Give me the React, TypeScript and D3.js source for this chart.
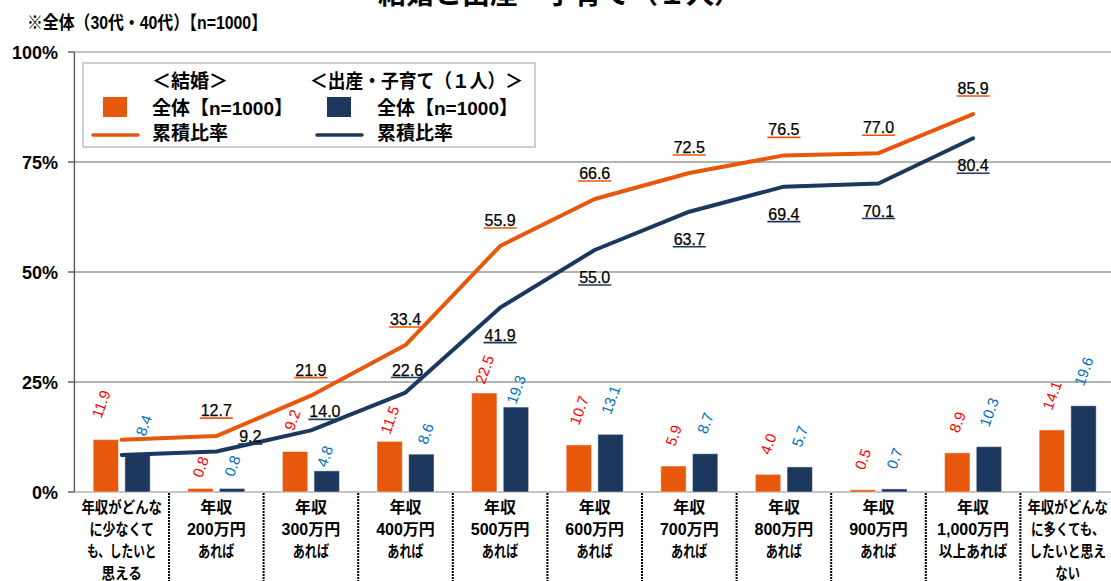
import React from "react";
import * as d3 from "d3";

// ---------- data ----------
const categories: string[][] = [
  ["年収がどんな", "に少なくて", "も、したいと", "思える"],
  ["年収", "200万円", "あれば"],
  ["年収", "300万円", "あれば"],
  ["年収", "400万円", "あれば"],
  ["年収", "500万円", "あれば"],
  ["年収", "600万円", "あれば"],
  ["年収", "700万円", "あれば"],
  ["年収", "800万円", "あれば"],
  ["年収", "900万円", "あれば"],
  ["年収", "1,000万円", "以上あれば"],
  ["年収がどんな", "に多くても、", "したいと思え", "ない"],
];
const marriageShare = [11.9, 0.8, 9.2, 11.5, 22.5, 10.7, 5.9, 4.0, 0.5, 8.9, 14.1];
const childShare = [8.4, 0.8, 4.8, 8.6, 19.3, 13.1, 8.7, 5.7, 0.7, 10.3, 19.6];
const marriageCumulative = [11.9, 12.7, 21.9, 33.4, 55.9, 66.6, 72.5, 76.5, 77.0, 85.9];
const childCumulative = [8.4, 9.2, 14.0, 22.6, 41.9, 55.0, 63.7, 69.4, 70.1, 80.4];
const yTicks = [0, 25, 50, 75, 100];
const subtitle = "※全体（30代・40代）【n=1000】";
const topTitle = "結婚と出産・子育て（１人）";
const legendHeads = ["＜結婚＞", "＜出産・子育て（１人）＞"];
const legendBarText = "全体【n=1000】";
const legendLineText = "累積比率";

// ---------- style / layout ----------
const ORANGE = "#E8580C";
const NAVY = "#1C385E";
const RED = "#FF0000";
const BLUE = "#0070C0";
const NUM_FONT = "'Liberation Sans', Arial, 'Noto Sans CJK JP', sans-serif";
const JP_FONT = "'Liberation Sans', Arial, 'Noto Sans CJK JP', sans-serif";

const barGap: Record<string, Record<number, number>> = {
  m: { 1: 10, 3: 6, 4: 8, 0: 20, 2: 20 },
  c: { 1: 11, 2: 3, 3: 9, 4: 2, 0: 18 },
};
const barDx: Record<string, Record<number, number>> = {
  m: { 0: -5, 2: -3 },
  c: { 0: 6, 2: -2, 3: 4 },
};
const childLabelOverride: Record<number, { dx: number; dy: number }> = {
  1: { dx: 34, dy: -9.5 },
  2: { dx: 14, dy: -13 },
  3: { dx: 2, dy: -17 },
};

function numWidth(s: string, size: number) {
  let w = 0;
  for (const ch of s) w += ch === "." ? 0.278 * size : 0.556 * size;
  return w;
}

// proportional-font width estimate (kana narrower than kanji)
function jpWidth(s: string, size: number) {
  let w = 0;
  for (const ch of s) {
    const c = ch.charCodeAt(0);
    if (ch === "," || ch === ".") w += 0.278 * size;
    else if (c < 0x80) w += 0.556 * size;
    else if (ch === "、") w += 0.55 * size;
    else if (c >= 0x3040 && c <= 0x30ff) w += 0.76 * size;
    else w += size;
  }
  return w;
}

export default function App() {
  const W = 1111;
  const H = 581;
  const x = d3
    .scaleBand<number>()
    .domain(d3.range(categories.length))
    .range([74.4, 1115])
    .padding(0);
  const y = d3.scaleLinear().domain([0, 100]).range([492, 52]);
  const bw = x.bandwidth();
  const cx = (i: number) => (x(i) as number) + bw / 2;
  const sub = d3
    .scaleBand<string>()
    .domain(["m", "c"])
    .range([-28.5, 28.5])
    .paddingInner(0.2);
  const barW = sub.bandwidth();

  const line = d3
    .line<number>()
    .x((_, i) => cx(i))
    .y((d) => y(d));

  const barLabel = (v: number, i: number, key: "m" | "c") => {
    const s = v.toFixed(1);
    const L = numWidth(s, 15);
    const hgt = L * Math.sin((70 * Math.PI) / 180) + 11 * Math.cos((70 * Math.PI) / 180);
    const gap = barGap[key][i] ?? 19;
    const dx = barDx[key][i] ?? 0;
    const bx = cx(i) + (sub(key) as number) + barW / 2 + dx;
    const by = y(v) - gap - hgt / 2;
    return (
      <text
        key={key + i}
        transform={`translate(${bx},${by}) rotate(-70)`}
        textAnchor="middle"
        dominantBaseline="central"
        fontFamily={NUM_FONT}
        fontSize={15}
        fill={key === "m" ? RED : BLUE}
      >
        {s}
      </text>
    );
  };

  const lineLabel = (v: number, i: number, key: "m" | "c") => {
    if (i === 0) return null;
    const s = v.toFixed(1);
    let dx = 0;
    let dy = key === "m" ? -20 : 33;
    if (key === "c" && childLabelOverride[i]) {
      dx = childLabelOverride[i].dx;
      dy = childLabelOverride[i].dy;
    }
    const tx = cx(i) + dx;
    const ty = y(v) + dy;
    const w = numWidth(s, 16);
    return (
      <g key={"l" + key + i}>
        <text
          x={tx}
          y={ty}
          textAnchor="middle"
          fontFamily={NUM_FONT}
          fontSize={16}
          fill="#000"
          stroke="#000"
          strokeWidth={0.25}
        >
          {s}
        </text>
        <line
          x1={tx - w / 2 - 1}
          x2={tx + w / 2 + 1}
          y1={ty + 2}
          y2={ty + 2}
          stroke={key === "m" ? ORANGE : NAVY}
          strokeWidth={1.6}
        />
      </g>
    );
  };

  return (
    <svg
      width={W}
      height={H}
      style={{ position: "absolute", left: 0, top: 0, background: "#fff" }}
    >
      {/* clipped top title */}
      <text
        x={560}
        y={4}
        textAnchor="middle"
        fontFamily={JP_FONT}
        fontWeight="bold"
        fontSize={28}
        fill="#000"
      >
        {topTitle}
      </text>
      <text
        x={27}
        y={29}
        fontFamily={JP_FONT}
        fontWeight="bold"
        fontSize={18.5}
        textLength={240}
        lengthAdjust="spacingAndGlyphs"
        fill="#000"
      >
        {subtitle}
      </text>

      {/* gridlines */}
      {yTicks.map((t) => (
        <line
          key={"g" + t}
          x1={74.4}
          x2={W}
          y1={y(t)}
          y2={y(t)}
          stroke={t === 0 || t === 100 ? "#c4c4c4" : "#9a9a9a"}
          strokeWidth={t === 0 || t === 100 ? 2.2 : 1.6}
        />
      ))}

      {/* y axis */}
      <line x1={74.4} x2={74.4} y1={y(100)} y2={y(0)} stroke="#5a5a5a" strokeWidth={1.4} />
      {yTicks.map((t) => (
        <g key={"t" + t}>
          <line x1={68} x2={74.4} y1={y(t)} y2={y(t)} stroke="#5a5a5a" strokeWidth={1.4} />
          <text
            x={58}
            y={y(t) + 6.5}
            textAnchor="end"
            fontFamily={NUM_FONT}
            fontWeight="bold"
            fontSize={18}
            fill="#000"
          >
            {t}%
          </text>
        </g>
      ))}

      {/* bars */}
      {marriageShare.map((v, i) => (
        <rect
          key={"bm" + i}
          x={cx(i) + (sub("m") as number)}
          y={y(v)}
          width={barW}
          height={y(0) - y(v)}
          fill={ORANGE}
          stroke="rgba(255,255,255,0.45)"
          strokeWidth={1}
        />
      ))}
      {childShare.map((v, i) => (
        <rect
          key={"bc" + i}
          x={cx(i) + (sub("c") as number)}
          y={y(v)}
          width={barW}
          height={y(0) - y(v)}
          fill={NAVY}
          stroke="rgba(255,255,255,0.45)"
          strokeWidth={1}
        />
      ))}

      {/* category separators */}
      {categories.slice(1).map((_, k) => (
        <line
          key={"s" + k}
          x1={x(k + 1) as number}
          x2={x(k + 1) as number}
          y1={493}
          y2={H}
          stroke="#000"
          strokeWidth={2}
          strokeDasharray="2 1"
        />
      ))}

      {/* category labels */}
      {categories.map((lines, i) =>
        lines.map((ln, k) => (
          <text
            key={"c" + i + "_" + k}
            x={Math.min(cx(i), W - 2 - jpWidth(ln, 16) / 2)}
            y={512.5 + k * 22.3}
            textAnchor="middle"
            fontFamily={JP_FONT}
            fontWeight="bold"
            fontSize={16}
            textLength={jpWidth(ln, 16)}
            lengthAdjust="spacingAndGlyphs"
            fill="#000"
          >
            {ln}
          </text>
        ))
      )}

      {/* cumulative lines */}
      <path
        d={line(marriageCumulative) || ""}
        fill="none"
        stroke={ORANGE}
        strokeWidth={4}
        strokeLinejoin="round"
        strokeLinecap="round"
      />
      <path
        d={line(childCumulative) || ""}
        fill="none"
        stroke={NAVY}
        strokeWidth={4}
        strokeLinejoin="round"
        strokeLinecap="round"
      />

      {/* bar labels */}
      {marriageShare.map((v, i) => barLabel(v, i, "m"))}
      {childShare.map((v, i) => barLabel(v, i, "c"))}

      {/* line labels */}
      {marriageCumulative.map((v, i) => lineLabel(v, i, "m"))}
      {childCumulative.map((v, i) => lineLabel(v, i, "c"))}

      {/* legend */}
      <rect x={83} y={63} width={452} height={84} fill="#fff" stroke="#c4c4c4" strokeWidth={1.6} />
      <text x={152} y={88} fontFamily={JP_FONT} fontWeight="bold" fontSize={19} fill="#000">
        {legendHeads[0]}
      </text>
      <text
        x={310}
        y={88}
        fontFamily={JP_FONT}
        fontWeight="bold"
        fontSize={19}
        textLength={213}
        lengthAdjust="spacingAndGlyphs"
        fill="#000"
      >
        {legendHeads[1]}
      </text>
      <rect x={103} y={97} width={24} height={20} fill={ORANGE} />
      <text x={152} y={115} fontFamily={JP_FONT} fontWeight="bold" fontSize={19} fill="#000">
        {legendBarText}
      </text>
      <rect x={327} y={97} width={24} height={20} fill={NAVY} />
      <text x={377} y={115} fontFamily={JP_FONT} fontWeight="bold" fontSize={19} fill="#000">
        {legendBarText}
      </text>
      <line x1={93} x2={138} y1={135} y2={135} stroke={ORANGE} strokeWidth={3.5} strokeLinecap="round" />
      <text x={152} y={140} fontFamily={JP_FONT} fontWeight="bold" fontSize={19} fill="#000">
        {legendLineText}
      </text>
      <line x1={317} x2={362} y1={135} y2={135} stroke={NAVY} strokeWidth={3.5} strokeLinecap="round" />
      <text x={377} y={140} fontFamily={JP_FONT} fontWeight="bold" fontSize={19} fill="#000">
        {legendLineText}
      </text>
    </svg>
  );
}
